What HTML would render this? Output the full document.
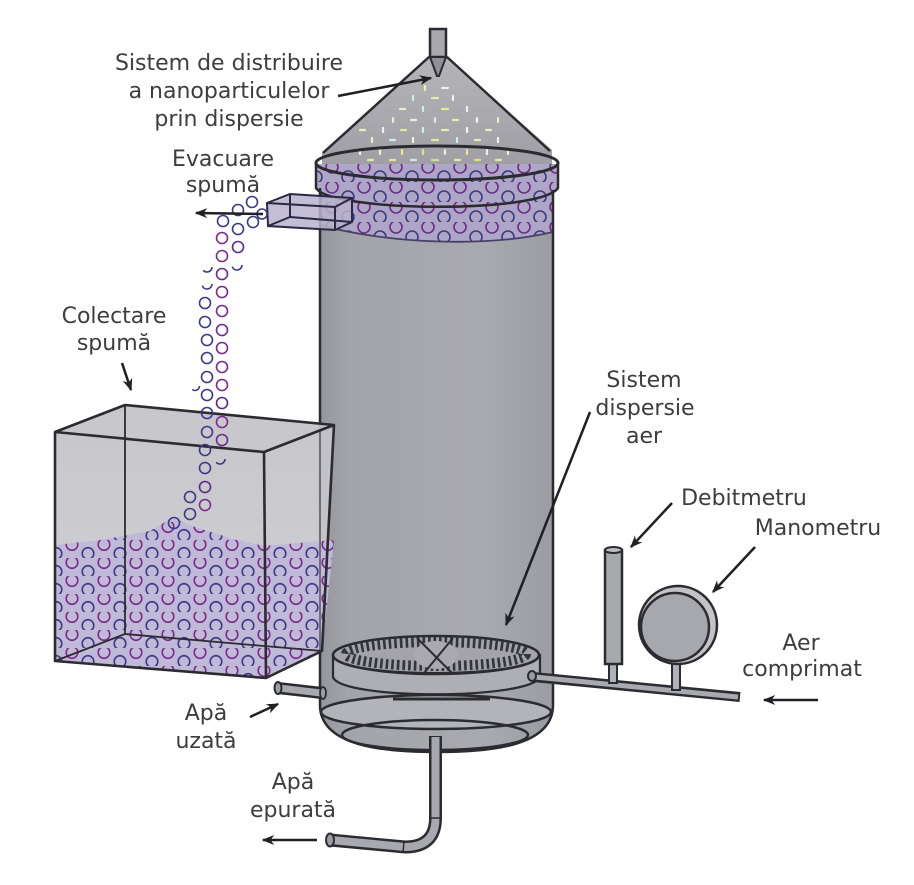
<!DOCTYPE html>
<html>
<head>
<meta charset="utf-8">
<style>
html,body{margin:0;padding:0;background:#ffffff;}
svg{display:block;}
text{font-family:"DejaVu Sans","Liberation Sans",sans-serif;font-size:22px;fill:#3d3d3f;text-anchor:middle;}
</style>
</head>
<body>
<svg width="914" height="885" viewBox="0 0 914 885" xmlns="http://www.w3.org/2000/svg">
<defs>
  <linearGradient id="colg" x1="0" x2="1" y1="0" y2="0">
    <stop offset="0" stop-color="#95969c"/>
    <stop offset="0.12" stop-color="#a3a4aa"/>
    <stop offset="0.7" stop-color="#a9aaaf"/>
    <stop offset="1" stop-color="#9b9ca2"/>
  </linearGradient>
  <linearGradient id="coneg" x1="0" y1="0" x2="0" y2="1">
    <stop offset="0" stop-color="#b5b5b9"/>
    <stop offset="1" stop-color="#9e9ea4"/>
  </linearGradient>
  <linearGradient id="boxg" x1="0" y1="0" x2="0" y2="1">
    <stop offset="0" stop-color="#c2c2c7"/>
    <stop offset="1" stop-color="#cdcdd2"/>
  </linearGradient>
  <pattern id="foamBox" width="32" height="18" patternUnits="userSpaceOnUse">
    <circle cx="8" cy="4.5" r="5.8" fill="none" stroke="#7a2c8c" stroke-width="1.6"/>
    <circle cx="24" cy="13.5" r="5.8" fill="none" stroke="#3b3a88" stroke-width="1.6"/>
  </pattern>
  <pattern id="foamCol" width="32" height="20" patternUnits="userSpaceOnUse" patternTransform="translate(4,2)">
    <circle cx="8" cy="5" r="6" fill="none" stroke="#6e2b86" stroke-width="1.6"/>
    <circle cx="24" cy="15" r="6" fill="none" stroke="#3d3a84" stroke-width="1.6"/>
  </pattern>
  <marker id="ah" viewBox="0 0 10 8" refX="9" refY="4" markerWidth="5" markerHeight="4" orient="auto">
    <path d="M0,0 L10,4 L0,8 L3,4 Z" fill="#1f1f24"/>
  </marker>
</defs>

<!-- ===== COLUMN ===== -->
<path d="M429,57 L447,57 L552,150 L552,166 L322,166 L322,152 Z" fill="url(#coneg)"/>
<line x1="429" y1="57" x2="323" y2="153" stroke="#2b2b30" stroke-width="2.5"/>
<line x1="447" y1="57" x2="550" y2="151" stroke="#2b2b30" stroke-width="2.5"/>
<rect x="430" y="29" width="16" height="28" fill="#a8a8ad" stroke="#2b2b30" stroke-width="2.5"/>
<path d="M430,57 L446,57 L439,76 L437,76 Z" fill="#8f8f95" stroke="#2b2b30" stroke-width="2"/>

<path d="M320,166 L320,705 C320,745 380,752 436,752 C495,752 553,745 553,705 L553,166 Z" fill="url(#colg)"/>

<g stroke-width="2.2" stroke-linecap="round">
  <line x1="425" y1="86" x2="425" y2="90" stroke="#e6f0c0"/>
  <line x1="442" y1="88" x2="448" y2="88" stroke="#e8f0e8"/>
  <line x1="413" y1="96" x2="413" y2="100" stroke="#d0ecec"/>
  <line x1="432" y1="98" x2="438" y2="98" stroke="#e0f0b0"/>
  <line x1="453" y1="96" x2="453" y2="100" stroke="#f0f0f0"/>
  <line x1="400" y1="109" x2="405" y2="109" stroke="#e8f0d0"/>
  <line x1="423" y1="107" x2="423" y2="111" stroke="#d0ecf0"/>
  <line x1="442" y1="109" x2="448" y2="109" stroke="#e8e890"/>
  <line x1="467" y1="107" x2="467" y2="111" stroke="#f0f0f0"/>
  <line x1="393" y1="118" x2="393" y2="122" stroke="#e0f0c8"/>
  <line x1="411" y1="120" x2="416" y2="120" stroke="#f0f0e0"/>
  <line x1="435" y1="118" x2="435" y2="122" stroke="#cfeaf0"/>
  <line x1="453" y1="120" x2="458" y2="120" stroke="#e8eca0"/>
  <line x1="477" y1="118" x2="477" y2="122" stroke="#f0f0f0"/>
  <line x1="498" y1="118" x2="498" y2="122" stroke="#e0f0d0"/>
  <line x1="360" y1="130" x2="365" y2="130" stroke="#e6f0c0"/>
  <line x1="383" y1="128" x2="383" y2="132" stroke="#f0f0f0"/>
  <line x1="401" y1="130" x2="406" y2="130" stroke="#e8e890"/>
  <line x1="423" y1="128" x2="423" y2="132" stroke="#cfeaf0"/>
  <line x1="442" y1="130" x2="448" y2="130" stroke="#e0f0b0"/>
  <line x1="467" y1="128" x2="467" y2="132" stroke="#f0f0f0"/>
  <line x1="486" y1="130" x2="491" y2="130" stroke="#e6f0c0"/>
  <line x1="372" y1="138" x2="372" y2="142" stroke="#e8f0d0"/>
  <line x1="390" y1="140" x2="395" y2="140" stroke="#d0ecf0"/>
  <line x1="413" y1="138" x2="413" y2="142" stroke="#f0f0e0"/>
  <line x1="432" y1="140" x2="438" y2="140" stroke="#e8e890"/>
  <line x1="457" y1="138" x2="457" y2="142" stroke="#cfeaf0"/>
  <line x1="475" y1="140" x2="480" y2="140" stroke="#e0f0b0"/>
  <line x1="498" y1="138" x2="498" y2="142" stroke="#f0f0f0"/>
  <line x1="360" y1="150" x2="360" y2="154" stroke="#f0f0f0"/>
  <line x1="380" y1="150" x2="380" y2="154" stroke="#e6f0c0"/>
  <line x1="402" y1="150" x2="402" y2="154" stroke="#e8e890"/>
  <line x1="423" y1="150" x2="423" y2="154" stroke="#cfe890"/>
  <line x1="445" y1="150" x2="445" y2="154" stroke="#e0f0d0"/>
  <line x1="467" y1="150" x2="467" y2="154" stroke="#e8e890"/>
  <line x1="487" y1="150" x2="487" y2="154" stroke="#f0f0f0"/>
  <line x1="508" y1="150" x2="508" y2="154" stroke="#e6f0c0"/>
  <line x1="368" y1="160" x2="373" y2="160" stroke="#d8f0a0"/>
  <line x1="390" y1="160" x2="395" y2="160" stroke="#e8e890"/>
  <line x1="411" y1="160" x2="416" y2="160" stroke="#cfeaf0"/>
  <line x1="432" y1="160" x2="438" y2="160" stroke="#c8e890"/>
  <line x1="455" y1="160" x2="460" y2="160" stroke="#d8f0a0"/>
  <line x1="475" y1="160" x2="480" y2="160" stroke="#e8e070"/>
  <line x1="496" y1="160" x2="501" y2="160" stroke="#d8f0a0"/>
</g>

<path d="M317,164 L557,164 L557,190 L553,193 L553,232 C480,249 380,242 320,225 L320,190 L317,188 Z" fill="#aea6c6"/>
<path d="M317,164 L557,164 L557,190 L553,193 L553,232 C480,249 380,242 320,225 L320,190 L317,188 Z" fill="url(#foamCol)"/>
<path d="M320,225 C380,242 480,249 553,232" fill="none" stroke="#4a3f66" stroke-width="1.8"/>

<ellipse cx="437" cy="163" rx="121" ry="17" fill="none" stroke="#2b2b30" stroke-width="3"/>
<path d="M316,163 L316,188 C330,212 540,214 558,188 L558,163" fill="none" stroke="#2b2b30" stroke-width="2.5"/>

<line x1="320" y1="188" x2="320" y2="705" stroke="#2b2b30" stroke-width="2.5"/>
<line x1="553" y1="190" x2="553" y2="705" stroke="#2b2b30" stroke-width="2.5"/>

<ellipse cx="436" cy="712" rx="115" ry="17" fill="#b3b4b9" stroke="#2b2b30" stroke-width="2.5"/>
<line x1="393" y1="699" x2="490" y2="699" stroke="#2b2b30" stroke-width="3"/>
<ellipse cx="435" cy="735" rx="93" ry="15" fill="none" stroke="#2b2b30" stroke-width="2.5"/>
<path d="M320,705 C320,745 380,752 436,752 C495,752 553,745 553,705" fill="none" stroke="#2b2b30" stroke-width="2.5"/>

<!-- sparger -->
<path d="M333,655 L333,677 C340,700 530,700 540,677 L540,655 Z" fill="#aeafb4" stroke="#2b2b30" stroke-width="2.2"/>
<ellipse cx="436" cy="655" rx="103" ry="19" fill="#a3a3a9" stroke="#2b2b30" stroke-width="2.5"/>
<ellipse cx="436" cy="654" rx="90" ry="12" fill="none" stroke="#34343c" stroke-width="10" stroke-dasharray="2.6 3"/>
<path d="M346,664 C380,676 490,676 526,664" fill="none" stroke="#2b2b30" stroke-width="2"/>
<ellipse cx="436" cy="655" rx="22" ry="14" fill="#a9a9af"/>
<line x1="417" y1="638" x2="452" y2="673" stroke="#2b2b30" stroke-width="2"/>
<line x1="453" y1="638" x2="424" y2="673" stroke="#2b2b30" stroke-width="2"/>

<!-- air pipe -->
<path d="M533,677 L740,697" stroke="#2b2b30" stroke-width="10" fill="none"/>
<path d="M535,677 L738,697" stroke="#a9aab0" stroke-width="5" fill="none"/>
<ellipse cx="532" cy="676" rx="4" ry="5" fill="#9a9aa0" stroke="#2b2b30" stroke-width="2"/>

<!-- debitmetru -->
<rect x="609" y="662" width="8" height="21" fill="#b0b1b6" stroke="#2b2b30" stroke-width="2"/>
<rect x="605" y="550" width="17" height="114" fill="#a8a9ae" stroke="#2b2b30" stroke-width="2.5"/>
<ellipse cx="613.5" cy="550" rx="8.5" ry="3" fill="#bdbdc2" stroke="#2b2b30" stroke-width="2"/>

<!-- manometru -->
<rect x="672" y="664" width="8" height="26" fill="#b0b1b6" stroke="#2b2b30" stroke-width="2"/>
<circle cx="678" cy="625" r="39" fill="#c3c3c8" stroke="#2b2b30" stroke-width="2.5"/>
<circle cx="675" cy="627" r="34" fill="#a7a8ad" stroke="#2b2b30" stroke-width="2.5"/>

<!-- outlet pipe -->
<path d="M435.5,736 L435.5,818 Q435.5,847 405,847 L330,840" stroke="#2b2b30" stroke-width="13" fill="none"/>
<path d="M435.5,737 L435.5,818 Q435.5,847 405,847 L331,840" stroke="#a8a9ae" stroke-width="8" fill="none"/>
<line x1="430" y1="818" x2="441" y2="818" stroke="#2b2b30" stroke-width="1.5"/>
<line x1="404" y1="841" x2="403" y2="853" stroke="#2b2b30" stroke-width="1.5"/>
<ellipse cx="330" cy="840" rx="4" ry="6.5" fill="#9d9ea4" stroke="#2b2b30" stroke-width="2"/>

<!-- inlet pipe (Apa uzata) -->
<path d="M278,688 L322,693" stroke="#2b2b30" stroke-width="12" fill="none"/>
<path d="M279,688 L321,693" stroke="#a8a9ae" stroke-width="7" fill="none"/>
<ellipse cx="278" cy="688" rx="3.5" ry="6" fill="#9d9ea4" stroke="#2b2b30" stroke-width="2"/>
<ellipse cx="323" cy="693" rx="3" ry="6" fill="#9d9ea4" stroke="#2b2b30" stroke-width="1.8"/>

<!-- ===== COLLECTOR BOX ===== -->
<polygon points="55,432 125,405 334,425 322,651 266,678 55,661" fill="url(#boxg)" opacity="0.93"/>
<path d="M55,545 L100,540 L150,531 L172,518 L195,527 L230,538 L264,546 L334,540 L322,651 L266,678 L55,661 Z" fill="#c1b9d8"/>
<path d="M55,545 L100,540 L150,531 L172,518 L195,527 L230,538 L264,546 L334,540 L322,651 L266,678 L55,661 Z" fill="url(#foamBox)"/>
<g stroke="#2b2b30" fill="none" stroke-linejoin="round">
  <line x1="125" y1="405" x2="125" y2="634" stroke-width="1.8"/>
  <line x1="125" y1="634" x2="55" y2="661" stroke-width="1.8"/>
  <line x1="125" y1="634" x2="322" y2="651" stroke-width="1.8"/>
  <polygon points="55,432 264,452 266,678 55,661" stroke-width="2.6"/>
  <polyline points="55,432 125,405 334,425 264,452" stroke-width="2.6"/>
  <polyline points="334,425 322,651 266,678" stroke-width="2.6"/>
</g>
<line x1="320" y1="430" x2="320" y2="650" stroke="#2b2b30" stroke-width="1.5" opacity="0.7"/>

<!-- foam duct -->
<g stroke="#2a2844" stroke-width="2" fill="none">
  <path d="M267,203 L290,194 L352,198 L352,222 L335,230 L268,226 Z" fill="#b9b3cc" fill-opacity="0.85"/>
  <path d="M267,203 L335,207 L335,230"/>
  <path d="M335,207 L352,198"/>
  <path d="M290,194 L290,217 L268,226"/>
  <path d="M290,217 L352,222"/>
</g>

<!-- foam stream bubbles -->
<g fill="none" stroke-width="1.6">
  <circle cx="252" cy="202" r="5.5" stroke="#3b3a88"/>
  <circle cx="238" cy="210" r="5.5" stroke="#3b3a88"/>
  <circle cx="262" cy="214" r="5" stroke="#3b3a88"/>
  <circle cx="253" cy="222" r="5.5" stroke="#3b3a88"/>
  <circle cx="223" cy="221" r="5.5" stroke="#3b3a88"/>
  <circle cx="238" cy="229" r="5.5" stroke="#3b3a88"/>
  <circle cx="222" cy="238" r="5.5" stroke="#7a2c8c"/>
  <circle cx="238" cy="247" r="5.5" stroke="#5a2c88"/>
  <circle cx="222" cy="256" r="5.5" stroke="#7a2c8c"/>
  <circle cx="237" cy="265" r="5" stroke="#3b3a88" stroke-dasharray="14 20"/>
  <circle cx="207" cy="267" r="5" stroke="#3b3a88" stroke-dasharray="12 20"/>
  <circle cx="222" cy="274" r="5.5" stroke="#6a2c88"/>
  <circle cx="207" cy="284" r="5" stroke="#4a3a88" stroke-dasharray="14 20"/>
  <circle cx="222" cy="292" r="5.5" stroke="#7a2c8c"/>
  <circle cx="205" cy="303" r="5.5" stroke="#3b3a88"/>
  <circle cx="222" cy="311" r="5.5" stroke="#7a2c8c"/>
  <circle cx="205" cy="322" r="5.5" stroke="#3b3a88"/>
  <circle cx="222" cy="330" r="5.5" stroke="#6a2c88"/>
  <circle cx="207" cy="340" r="5.5" stroke="#3b3a88"/>
  <circle cx="222" cy="348" r="5.5" stroke="#7a2c8c"/>
  <circle cx="207" cy="358" r="5.5" stroke="#3b3a88"/>
  <circle cx="222" cy="367" r="5.5" stroke="#7a2c8c"/>
  <circle cx="207" cy="377" r="5.5" stroke="#3b3a88"/>
  <circle cx="222" cy="385" r="5.5" stroke="#7a2c8c"/>
  <circle cx="195" cy="386" r="4.5" stroke="#3b3a88" stroke-dasharray="10 20"/>
  <circle cx="207" cy="395" r="5.5" stroke="#3b3a88"/>
  <circle cx="222" cy="403" r="5.5" stroke="#5a2c88"/>
  <circle cx="207" cy="413" r="5.5" stroke="#3b3a88"/>
  <circle cx="222" cy="422" r="5.5" stroke="#7a2c8c"/>
  <circle cx="207" cy="432" r="5.5" stroke="#3b3a88"/>
  <circle cx="222" cy="440" r="5.5" stroke="#6a2c88"/>
  <circle cx="205" cy="450" r="5.5" stroke="#3b3a88"/>
  <circle cx="220" cy="459" r="5" stroke="#3b3a88" stroke-dasharray="12 20"/>
  <circle cx="205" cy="468" r="5.5" stroke="#3b3a88"/>
  <circle cx="205" cy="487" r="5.5" stroke="#5a2c88"/>
  <circle cx="190" cy="497" r="5.5" stroke="#3b3a88"/>
  <circle cx="205" cy="505" r="5.5" stroke="#7a2c8c"/>
  <circle cx="190" cy="514" r="5.5" stroke="#3b3a88"/>
  <circle cx="174" cy="523" r="5.5" stroke="#3b3a88"/>
</g>

<!-- ===== ARROWS ===== -->
<g stroke="#1f1f24" stroke-width="2.5" fill="none" marker-end="url(#ah)">
  <line x1="338" y1="96" x2="431" y2="78"/>
  <line x1="263" y1="214" x2="196" y2="213"/>
  <line x1="122" y1="363" x2="131" y2="390"/>
  <line x1="590" y1="412" x2="506" y2="625"/>
  <line x1="672" y1="503" x2="631" y2="547"/>
  <line x1="755" y1="547" x2="713" y2="592"/>
  <line x1="818" y1="700" x2="764" y2="700"/>
  <line x1="250" y1="717" x2="278" y2="704"/>
  <line x1="317" y1="840" x2="263" y2="840"/>
</g>

<!-- ===== LABELS ===== -->
<text x="229" y="70">Sistem de distribuire</text>
<text x="229" y="98">a nanoparticulelor</text>
<text x="229" y="126">prin dispersie</text>
<text x="223" y="166">Evacuare</text>
<text x="223" y="192">spumă</text>
<text x="114" y="323">Colectare</text>
<text x="114" y="350">spumă</text>
<text x="644" y="387">Sistem</text>
<text x="645" y="415">dispersie</text>
<text x="644" y="443">aer</text>
<text x="744" y="505">Debitmetru</text>
<text x="818" y="535">Manometru</text>
<text x="801" y="650">Aer</text>
<text x="802" y="676">comprimat</text>
<text x="206" y="720">Apă</text>
<text x="206" y="748">uzată</text>
<text x="293" y="789">Apă</text>
<text x="293" y="817">epurată</text>
</svg>
</body>
</html>
